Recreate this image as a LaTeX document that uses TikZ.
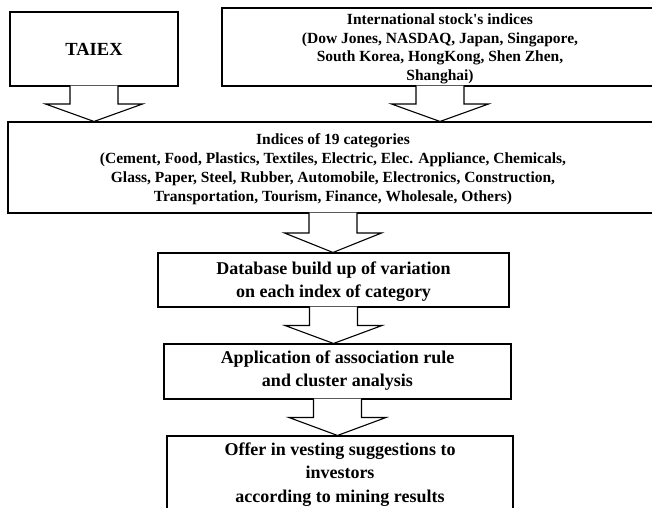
\documentclass[tikz,border=0pt]{standalone}
\usepackage{fontspec}
\setmainfont{Liberation Serif}
\usetikzlibrary{calc}

% hollow block arrow from the bottom of one box to the top of the next
\newcommand{\blockarrow}[2]{%
  \coordinate (m) at ($(#1.south)!0.5!(#1.south |- #2.north)$);
  \draw[blockarr] ([xshift=-24pt,yshift=1pt]#1.south) -- ([xshift=-24pt]m) -- ([xshift=-48.5pt]m)
    -- (#1.south |- #2.north) -- ([xshift=48.5pt]m) -- ([xshift=24pt]m) -- ([xshift=24pt,yshift=1pt]#1.south);}

\begin{document}
\begin{tikzpicture}[x=1pt, y=-1pt,
        flowbox/.style={draw, line width=1.1pt, align=center, inner sep=0pt},
        smalltext/.style={font=\fontsize{15.5}{18.7}\selectfont\bfseries},
        bigtext/.style={font=\fontsize{18}{22.7}\selectfont\bfseries},
        blockarr/.style={draw, fill=white, line width=1.1pt, line join=miter}]
        \useasboundingbox (0,0) rectangle (652,507);

        \node[flowbox, minimum width=168pt, minimum height=74pt, font=\fontsize{18.5}{22}\selectfont\bfseries] (taiex) at (94,49) {TAIEX};
        \node[flowbox, smalltext, text depth=-0.6pt, minimum width=436pt, minimum height=78pt] (intl) at (440,47)
            {International stock\textquotesingle s indices\\(Dow Jones, NASDAQ, Japan, Singapore,\\South Korea, HongKong, Shen Zhen,\\Shanghai)};
        \node[flowbox, smalltext, font=\fontsize{15.5}{19.2}\selectfont\bfseries, text depth=-8pt, minimum width=650pt, minimum height=91pt] (cats) at (333,167.5)
            {Indices of 19 categories\\(Cement, Food, Plastics, Textiles, Electric, Elec. Appliance, Chemicals,\\Glass, Paper, Steel, Rubber, Automobile, Electronics, Construction,\\Transportation, Tourism, Finance, Wholesale, Others)};
        \node[flowbox, bigtext, text depth=-2pt, minimum width=351pt, minimum height=54pt] (dbase) at (333.5,280)
            {Database build up of variation\\on each index of category};
        \node[flowbox, bigtext, text depth=6pt, minimum width=347pt, minimum height=55pt] (apply) at (337.5,371.5)
            {Application of association rule\\and cluster analysis};
        \node[flowbox, bigtext, font=\fontsize{18}{23.2}\selectfont\bfseries, text depth=1pt, minimum width=346pt, minimum height=74pt] (offer) at (340,473)
            {Offer in vesting suggestions to\\investors\\according to mining results};

        \blockarrow{taiex}{cats}
        \blockarrow{intl}{cats}
        \blockarrow{cats}{dbase}
        \blockarrow{dbase}{apply}
        \blockarrow{apply}{offer}
\end{tikzpicture}
\end{document}
